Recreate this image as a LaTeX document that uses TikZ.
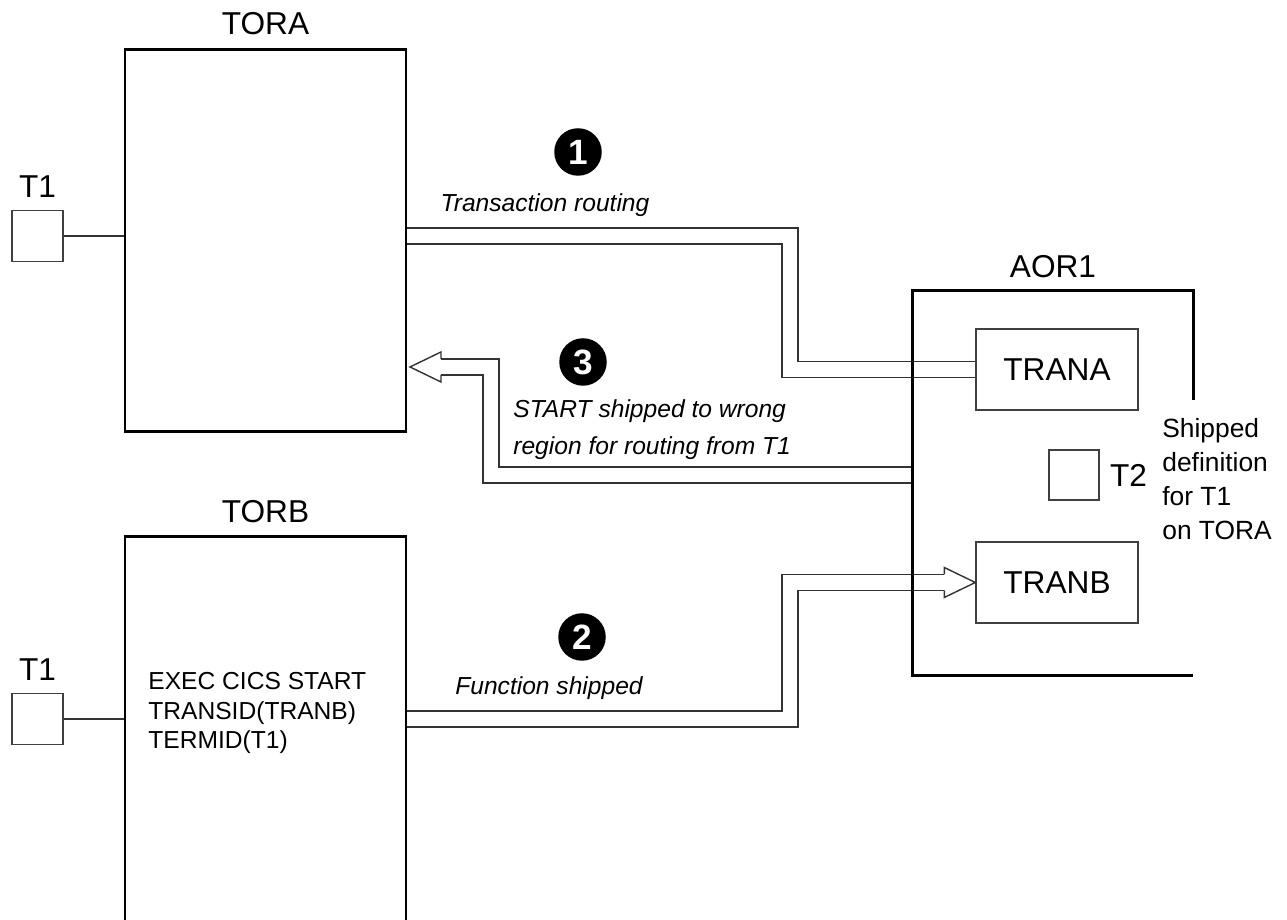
\documentclass[tikz,border=0pt]{standalone}
\usepackage{fontspec}
\setmainfont{Liberation Sans}
\usetikzlibrary{calc,positioning}
\newcommand{\pipegap}{8.3pt}
\newcommand{\headlen}{0.62}
\newcommand{\headwid}{0.3}
\newcommand{\pipewid}{0.16}

\tikzset{
  region/.style={draw, line width=1.7pt, minimum width=5.62cm, inner sep=0},
  term/.style={draw=black!75, line width=0.8pt, minimum size=1.02cm, inner sep=0},
  tran/.style={draw=black!75, line width=0.8pt, minimum width=3.24cm, minimum height=1.62cm, inner sep=0, font=\fontsize{18}{18}\selectfont},
  biglabel/.style={inner sep=0, font=\fontsize{18}{18}\selectfont},
  note/.style={inner sep=0, align=left, font=\itshape\fontsize{14}{21}\selectfont},
  badge/.style={circle, fill=black, text=white, minimum size=0.95cm, inner sep=0, font=\bfseries\fontsize{20}{20}\selectfont},
  pipe/.style={draw=black!80, line width=0.8pt, double=white, double distance=\pipegap},
  thinline/.style={draw=black!80, line width=0.8pt}
}

\begin{document}
\begin{tikzpicture}
\useasboundingbox (0,0) rectangle (25.74,18.4);
% regions
\node[region, minimum height=7.64cm] (TORA) at (5.31,13.58) {};
\node[region, minimum height=8.26cm] (TORB) at (5.31,3.53) {};
\node[minimum width=5.6cm, minimum height=7.68cm, inner sep=0] (AOR1) at (21.06,8.74) {};
\node[biglabel, above=0.27cm of TORA] (toralbl) {TORA};
\node[biglabel, above=0.25cm of TORB] (torblbl) {TORB};
\node[biglabel, above=0.25cm of AOR1] (aorlbl) {AOR1};
% terminals
\node[term] (T1a) at (0.75,13.68) {};
\node[biglabel, above=0.24cm of T1a] (t1albl) {T1};
\node[term] (T1b) at (0.75,4.02) {};
\node[biglabel, above=0.24cm of T1b] (t1blbl) {T1};
\draw[thinline] (T1a) -- (T1a -| TORA.west);
\draw[thinline] (T1b) -- (T1b -| TORB.west);
\node[term, minimum size=1.0cm] (T2) at (21.48,8.9) {};
\node[biglabel, right=0.2cm of T2] (t2lbl) {T2};
\node[anchor=west, align=left, inner sep=0, font=\fontsize{15}{19.4}\selectfont] (shipnote) at (23.24,8.82) {Shipped\\definition\\for T1\\on TORA};
% transactions
\node[tran] (TRANA) at (21.14,11.01) {TRANA};
\node[tran] (TRANB) at (21.14,6.75) {TRANB};
\node[anchor=west, align=left, inner sep=0, font=\fontsize{14}{17}\selectfont] (code) at (2.96,4.14) {EXEC CICS START\\TRANSID(TRANB)\\TERMID(T1)};
% steps
\node[badge] (n1) at (11.56,15.36) {1};
\node[badge] (n3) at (11.66,11.16) {3};
\node[badge] (n2) at (11.64,5.66) {2};
\node[note] (note1) at (10.9,14.3) {Transaction routing};
\node[note, anchor=west] (note3) at (10.26,9.8) {START shipped to wrong\\region for routing from T1};
\node[note] (note2) at (10.98,4.64) {Function shipped};
% pipes
\coordinate (bend1) at (15.8,11.01);
\coordinate (bend2) at (15.8,6.75);
\coordinate (bend3) at (9.82,11.06);
\coordinate (tip3) at (8.2,11.06);
\draw[pipe] (T1a -| TORA.east) -| (bend1) -- (TRANA.west);
\draw[pipe] (T1b -| TORB.east) -| (bend2) -- ($(TRANB.west)+(-\headlen,0)$);
\draw[thinline] ($(TRANB.west)+(-\headlen,\pipewid)$) -- ++(0,0.14) -- (TRANB.west) -- ++(-\headlen,-\headwid) -- ++(0,0.14);
\draw[pipe] (T2 -| AOR1.west) -| (bend3) -- ($(tip3)+(\headlen,0)$);
\draw[thinline] ($(tip3)+(\headlen,\pipewid)$) -- ++(0,0.14) -- (tip3) -- ++(\headlen,-\headwid) -- ++(0,0.14);
% AOR1 outline
\draw[line width=1.7pt] ($(AOR1.north east)+(0,-2.18)$) -- (AOR1.north east) -- (AOR1.north west) -- (AOR1.south west) -- (AOR1.south east);
\end{tikzpicture}
\end{document}
